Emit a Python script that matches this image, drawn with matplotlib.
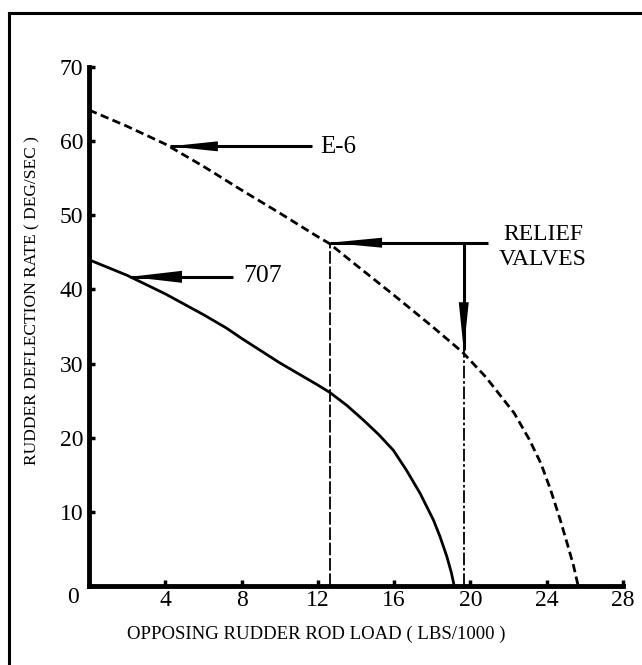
import numpy as np
import matplotlib
matplotlib.use('Agg')
import matplotlib.pyplot as plt
from matplotlib.lines import Line2D

plt.rcParams['font.family'] = ['Liberation Serif', 'DejaVu Serif']

# data
x_707 = [0, 2, 4, 6, 7.2, 8, 10, 11, 12, 12.63, 13.5, 14.38, 15.2, 15.96, 16.65,
         17.36, 18.06, 18.4, 18.76, 19.0, 19.15]
y_707 = [44.0, 41.9, 39.4, 36.6, 34.8, 33.4, 30.1, 28.6, 27.1, 26.1, 24.4, 22.4,
         20.4, 18.3, 15.6, 12.5, 8.9, 6.7, 4.0, 1.8, 0]

x_e6 = [0, 2, 4, 6, 8, 10, 12, 12.6, 14, 16, 18, 19.6, 20.8, 22.3, 23.1, 23.7,
        24.2, 24.7, 25.1, 25.4, 25.65]
y_e6 = [64.2, 62.0, 59.6, 56.6, 53.4, 50.3, 47.1, 46.2, 43.3, 39.2, 35.0, 31.5,
        28.2, 23.3, 19.7, 16.5, 13.0, 9.0, 5.5, 2.8, 0]

# relief valve points on E-6 curve
relief_x = [12.64, 19.65]
relief_y = [46.3, 31.8]

x_ticks = [4, 8, 12, 16, 20, 24, 28]
y_ticks = [10, 20, 30, 40, 50, 60, 70]

fig = plt.figure(figsize=(6.42, 6.65), dpi=100)
ax = fig.add_axes([89 / 642, 1 - 586 / 665, (623 - 89) / 642, (586 - 67) / 665])
ax.set_xlim(0, 28)
ax.set_ylim(0, 70)

# data units per pixel, for the arrow heads
sx = 28 / 534
sy = 70 / 519


def draw_arrow(tip, tail, head_len, half_w):
    # shaft plus a filled triangular head, head sizes in pixels
    ax.plot([tail[0], tip[0]], [tail[1], tip[1]], color='black', lw=2.2,
            solid_capstyle='butt')
    if tip[1] == tail[1]:
        d = 1 if tail[0] > tip[0] else -1
        hx = [tip[0], tip[0] + d * head_len * sx, tip[0] + d * head_len * sx]
        hy = [tip[1], tip[1] + half_w * sy, tip[1] - half_w * sy]
    else:
        d = 1 if tail[1] > tip[1] else -1
        hx = [tip[0], tip[0] + half_w * sx, tip[0] - half_w * sx]
        hy = [tip[1], tip[1] + d * head_len * sy, tip[1] + d * head_len * sy]
    ax.fill(hx, hy, color='black', lw=0)


for s in ['top', 'right']:
    ax.spines[s].set_visible(False)
for s in ['left', 'bottom']:
    ax.spines[s].set_linewidth(3.5)

ax.set_xticks(x_ticks)
ax.set_yticks(y_ticks)
ax.tick_params(direction='in', length=4, width=2.5, labelsize=17)
ax.tick_params(axis='x', pad=3)
ax.tick_params(axis='y', pad=4)
ax.text(-0.84, -1.6, '0', fontsize=17, ha='center', va='center')

# curves
ax.plot(x_707, y_707, color='black', lw=2)
ax.plot(x_e6, y_e6, color='black', lw=2, linestyle=(0, (3, 1.6)))

# relief valve lines
ax.plot([relief_x[0], relief_x[0]], [0, relief_y[0]], color='black', lw=1.3,
        linestyle=(0, (7, 1.5)))
ax.plot([relief_x[1], relief_x[1]], [0, relief_y[1]], color='black', lw=1.3,
        linestyle=(0, (7, 1.5, 1.5, 1.5)))

draw_arrow((relief_x[0], relief_y[0]), (20.92, relief_y[0]), 52, 5)
draw_arrow((relief_x[1], relief_y[1]), (relief_x[1], relief_y[0]), 48, 5)
ax.text(23.8, 45.7, 'RELIEF\nVALVES', fontsize=17, ha='center', va='center',
        linespacing=1.25)

# curve labels
draw_arrow((4.24, 59.3), (11.7, 59.3), 48, 5)
ax.text(12.1, 59.2, 'E-6', fontsize=18, ha='left', va='center')
draw_arrow((2.15, 41.7), (7.55, 41.7), 52, 6)
ax.text(8.1, 41.8, '707', fontsize=18.5, ha='left', va='center')

# axis labels
ax.text(11.9, -6.5, 'OPPOSING RUDDER ROD LOAD ( LBS/1000 )', fontsize=13.5,
        ha='center', va='center')
ax.text(-2.99, 38.5, 'RUDDER DEFLECTION RATE ( DEG/SEC )', fontsize=12.5,
        ha='center', va='center', rotation=90)

# frame lines (left and top) of the scanned figure
fig.add_artist(Line2D([9 / 642, 9 / 642], [0, 1 - 13 / 665], color='black', lw=2.2))
fig.add_artist(Line2D([9 / 642, 1], [1 - 13 / 665, 1 - 13 / 665], color='black', lw=2.2))

fig.savefig('out.png', dpi=100)
